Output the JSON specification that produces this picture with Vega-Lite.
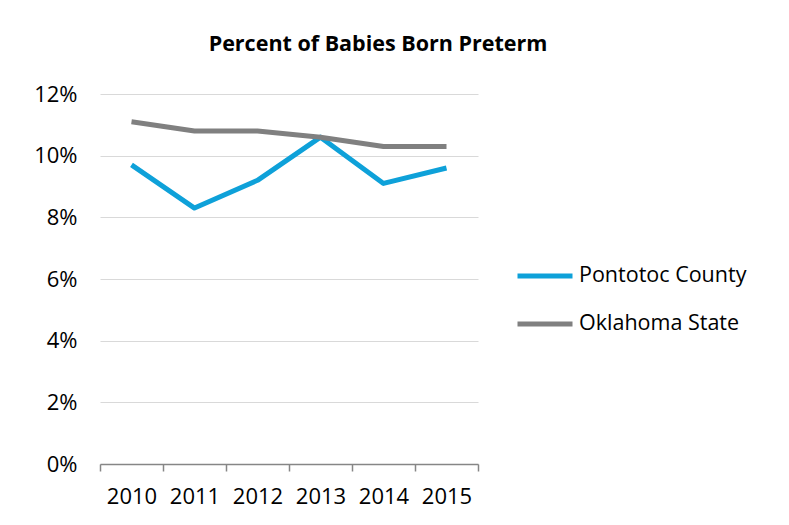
{
  "$schema": "https://vega.github.io/schema/vega-lite/v6.json",
  "autosize": "none",
  "width": 378,
  "height": 370,
  "padding": {"left": 100, "top": 94, "right": 311, "bottom": 61},
  "background": "white",
  "title": {
    "text": "Percent of Babies Born Preterm",
    "font": "Open Sans",
    "fontSize": 21.5,
    "fontWeight": "bold",
    "color": "#000000",
    "anchor": "middle",
    "frame": "group",
    "dx": 89,
    "offset": 28
  },
  "data": {
    "values": [
      {"year": "2010", "series": "Pontotoc County", "pct": 0.097},
      {"year": "2011", "series": "Pontotoc County", "pct": 0.083},
      {"year": "2012", "series": "Pontotoc County", "pct": 0.092},
      {"year": "2013", "series": "Pontotoc County", "pct": 0.106},
      {"year": "2014", "series": "Pontotoc County", "pct": 0.091},
      {"year": "2015", "series": "Pontotoc County", "pct": 0.096},
      {"year": "2010", "series": "Oklahoma State", "pct": 0.111},
      {"year": "2011", "series": "Oklahoma State", "pct": 0.108},
      {"year": "2012", "series": "Oklahoma State", "pct": 0.108},
      {"year": "2013", "series": "Oklahoma State", "pct": 0.106},
      {"year": "2014", "series": "Oklahoma State", "pct": 0.103},
      {"year": "2015", "series": "Oklahoma State", "pct": 0.103}
    ]
  },
  "mark": {"type": "line", "strokeWidth": 5, "strokeCap": "butt", "strokeJoin": "round"},
  "encoding": {
    "x": {
      "field": "year",
      "type": "ordinal",
      "scale": {"type": "band", "paddingInner": 0, "paddingOuter": 0},
      "axis": {
        "title": null,
        "labelAngle": 0,
        "labelFont": "Open Sans",
        "labelFontSize": 22,
        "labelColor": "#000000",
        "tickBand": "extent",
        "tickSize": 7,
        "tickColor": "#868686",
        "tickWidth": 1.5,
        "domainColor": "#868686",
        "domainWidth": 1.5,
        "labelPadding": 15,
        "grid": false
      }
    },
    "y": {
      "field": "pct",
      "type": "quantitative",
      "scale": {"domain": [0, 0.12], "nice": false},
      "axis": {
        "title": null,
        "format": ".0%",
        "values": [0, 0.02, 0.04, 0.06, 0.08, 0.1, 0.12],
        "labelFont": "Open Sans",
        "labelFontSize": 22,
        "labelColor": "#000000",
        "ticks": false,
        "domain": false,
        "labelPadding": 23,
        "grid": true,
        "gridColor": "#d9d9d9",
        "gridWidth": 1.2
      }
    },
    "color": {
      "field": "series",
      "type": "nominal",
      "scale": {"domain": ["Pontotoc County", "Oklahoma State"], "range": ["#0ea1d9", "#808080"]},
      "legend": {
        "title": null,
        "orient": "none",
        "legendX": 415,
        "legendY": 152,
        "symbolType": "stroke",
        "symbolSize": 3025,
        "symbolStrokeWidth": 5,
        "labelFont": "Open Sans",
        "labelFontSize": 21.5,
        "labelColor": "#000000",
        "labelOffset": 4,
        "labelLimit": 300,
        "rowPadding": 7
      }
    }
  },
  "config": {"view": {"stroke": null}}
}
